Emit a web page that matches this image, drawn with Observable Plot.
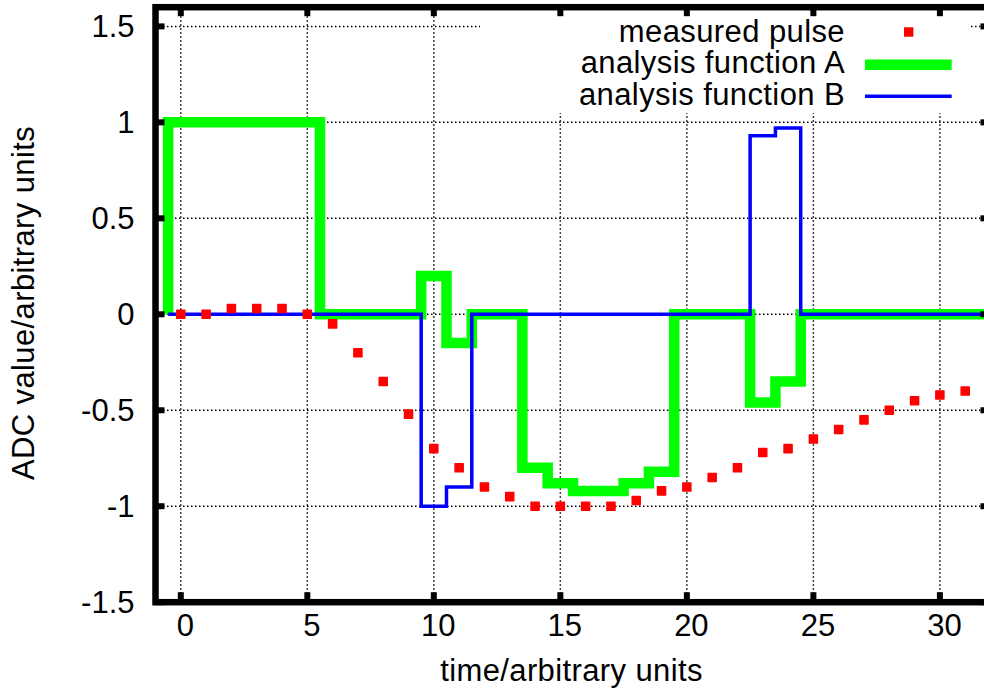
<!DOCTYPE html>
<html><head><meta charset="utf-8">
<script src="https://cdn.jsdelivr.net/npm/d3@7"></script>
<script src="https://cdn.jsdelivr.net/npm/@observablehq/plot@0.6"></script>
<style>
html,body{margin:0;padding:0;background:#fff;overflow:hidden;}
</style></head><body><div id="chart"></div>
<script>
// ---- data ----
const times = [0,1,2,3,4,5,6,7,8,9,10,11,12,13,14,15,16,17,18,19,20,21,22,23,24,25,26,27,28,29,30,31,32];
const pulseTimes = [0,1,2,3,4,5,6,7,8,9,10,11,12,13,14,15,16,17,18,19,20,21,22,23,24,25,26,27,28,29,30,31];
const pulse = [0,0,0.03,0.03,0.03,0,-0.05,-0.2,-0.35,-0.52,-0.7,-0.8,-0.9,-0.95,-1.0,-1.0,-1.0,-1.0,-0.97,-0.92,-0.9,-0.85,-0.8,-0.72,-0.7,-0.65,-0.6,-0.55,-0.5,-0.45,-0.42,-0.4];
const funcA = [1,1,1,1,1,1,0,0,0,0,0.2,-0.15,0,0,-0.8,-0.88,-0.92,-0.92,-0.88,-0.82,0,0,0,-0.46,-0.35,0,0,0,0,0,0,0,0];
const funcB = [0,0,0,0,0,0,0,0,0,0,-1.0,-0.9,0,0,0,0,0,0,0,0,0,0,0,0.93,0.97,0,0,0,0,0,0,0,0];
const xTicks = [0,5,10,15,20,25,30];
const yTicks = [-1.5,-1,-0.5,0,0.5,1,1.5];
const xDomain = [-1, 32];
const yDomain = [-1.5, 1.6];
const xLabel = "time/arbitrary units";
const yLabel = "ADC value/arbitrary units";
const legendLabels = ["measured pulse", "analysis function A", "analysis function B"];
const colors = {pulse: "#ff0000", A: "#00ff00", B: "#0000ff"};

// histogram-step vertices (gnuplot "histeps")
function histeps(ts, vs) {
  const pts = [{t: ts[0] - 0.5, v: 0}];
  ts.forEach((t, i) => { pts.push({t: t - 0.5, v: vs[i]}, {t: t + 0.5, v: vs[i]}); });
  return pts;
}
const pulseData = pulseTimes.map((t, i) => ({t, v: pulse[i]}));

const FONT = "'Liberation Sans', Arial, Helvetica, sans-serif";
const FS = 31;
const TICKW = 6, TICKL = 9.5;
const gridStyle = {stroke: "black", strokeWidth: 1.5, strokeDasharray: "1.5,2.5"};

const plot = Plot.plot({
  width: 984, height: 698,
  marginLeft: 155, marginRight: -6, marginTop: 6.7, marginBottom: 96.3,
  x: {domain: xDomain, axis: null},
  y: {domain: yDomain, axis: null},
  style: {fontFamily: FONT, background: "white", color: "black"},
  marks: [
    Plot.ruleX(xTicks, {x: d => d, y1: () => yDomain[0], y2: () => yDomain[1], ...gridStyle}),
    Plot.ruleY(yTicks, {y: d => d, x1: () => xDomain[0], x2: () => xDomain[1], ...gridStyle}),
    Plot.line(histeps(times, funcA), {x: "t", y: "v", stroke: colors.A, strokeWidth: 10.5, strokeLinejoin: "miter", strokeMiterlimit: 10, strokeLinecap: "butt"}),
    Plot.line(histeps(times, funcB), {x: "t", y: "v", stroke: colors.B, strokeWidth: 3.5, strokeLinejoin: "miter", strokeMiterlimit: 10, strokeLinecap: "butt"}),
    Plot.dot(pulseData, {x: "t", y: "v", symbol: "square", r: 4.6, fill: colors.pulse, stroke: colors.pulse, strokeWidth: 1.4, strokeLinejoin: "round"}),
    Plot.frame({stroke: "black", strokeWidth: 6.5}),
    // inward ticks on all four sides
    Plot.ruleX(xTicks, {x: d => d, y1: () => yDomain[0], y2: () => yDomain[0], insetTop: -TICKL, stroke: "black", strokeWidth: TICKW}),
    Plot.ruleX(xTicks, {x: d => d, y1: () => yDomain[1], y2: () => yDomain[1], insetBottom: -TICKL, stroke: "black", strokeWidth: TICKW}),
    Plot.ruleY(yTicks, {y: d => d, x1: () => xDomain[0], x2: () => xDomain[0], insetRight: -TICKL, stroke: "black", strokeWidth: TICKW}),
    Plot.ruleY(yTicks, {y: d => d, x1: () => xDomain[1], x2: () => xDomain[1], insetLeft: -TICKL, stroke: "black", strokeWidth: TICKW}),
    // tick labels
    Plot.text(xTicks, {x: d => d, frameAnchor: "bottom", dy: 33.4, dx: 4.5, text: d => String(d), fontSize: FS, fill: "black"}),
    Plot.text(yTicks, {y: d => d, frameAnchor: "left", textAnchor: "end", dx: -21, dy: 1, text: d => String(d), fontSize: FS, fill: "black"}),
    // axis labels
    Plot.text([xLabel], {frameAnchor: "bottom", textAnchor: "middle", dy: 78.4, dx: -1.5, text: d => d, fontSize: FS, fill: "black"}),
    Plot.text([yLabel], {frameAnchor: "left", textAnchor: "middle", rotate: -90, dx: -131.4, dy: -1.7, text: d => d, fontSize: FS, fill: "black"})
  ]
});
document.getElementById("chart").appendChild(plot);

const svg = d3.select(plot);
svg.selectAll("text").filter(function () { return this.textContent === xLabel || this.textContent === yLabel; })
  .style("letter-spacing", "0.38px");

// ---- key (opaque box, top right inside the frame) ----
const fx1 = plot.scale("x").range[1];
const fy0 = plot.scale("y").range[1];
svg.insert("rect", 'g[aria-label="line"]')
  .attr("x", fx1 - 510).attr("y", fy0 + 3.5)
  .attr("width", 490).attr("height", 102.8)
  .attr("fill", "white");
const key = svg.append("g").attr("font-family", FONT).attr("font-size", FS);
const rowsBase = [35, 66.5, 98];
legendLabels.forEach((lab, i) => {
  key.append("text").attr("x", fx1 - 145).attr("y", fy0 + rowsBase[i])
    .attr("text-anchor", "end").attr("fill", "black")
    .style("letter-spacing", "0.4px").text(lab);
});
key.append("rect").attr("x", fx1 - 81.3 - 4).attr("y", fy0 + 25.3 - 4).attr("width", 8).attr("height", 8)
  .attr("fill", colors.pulse).attr("stroke", colors.pulse).attr("stroke-width", 1.4).attr("stroke-linejoin", "round");
key.append("line").attr("x1", fx1 - 125).attr("x2", fx1 - 38.3).attr("y1", fy0 + 58).attr("y2", fy0 + 58)
  .attr("stroke", colors.A).attr("stroke-width", 10.5);
key.append("line").attr("x1", fx1 - 125).attr("x2", fx1 - 38.3).attr("y1", fy0 + 89.6).attr("y2", fy0 + 89.6)
  .attr("stroke", colors.B).attr("stroke-width", 3.5);
</script>
</body></html>
